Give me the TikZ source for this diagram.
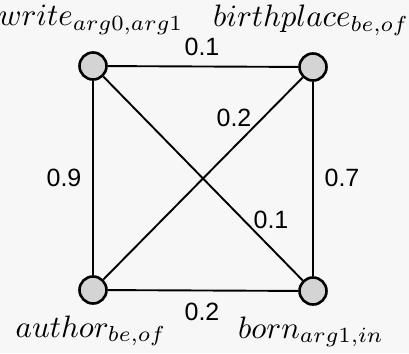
\documentclass[tikz,border=0pt]{standalone}
\usepackage{fontspec}
\setsansfont{Liberation Sans}
\usepackage{tikz}

\newcommand{\vtext}[1]{\scalebox{3.1}{$#1$}}

\begin{document}
\begin{tikzpicture}[x=1pt,y=-1pt,
  vertex/.style={circle,draw,line width=2.6pt,fill=black!17,inner sep=0pt,minimum size=27pt},
  weight/.style={font=\sffamily\fontsize{25}{28}\selectfont,inner sep=0pt},
  vname/.style={anchor=base,inner sep=0pt}]
  \useasboundingbox[fill=black!3] (0,0) rectangle (409,353);
  \node[vertex] (write) at (93,66) {};
  \node[vertex] (birth) at (313,67) {};
  \node[vertex] (author) at (93,290) {};
  \node[vertex] (born) at (313,291) {};
  \node[vname] (lwrite) at (91,26) {\vtext{write_{arg0,arg1}}};
  \node[vname] (lbirth) at (311,27) {\vtext{birthplace_{be,of}}};
  \node[vname] (lauthor) at (91,337) {\vtext{author_{be,of}}};
  \node[vname] (lborn) at (311,338) {\vtext{born_{arg1,in}}};
  \draw[line width=1.9pt] (write) -- (birth);
  \draw[line width=1.9pt] (write) -- (author);
  \draw[line width=1.9pt] (write) -- (born);
  \draw[line width=1.9pt] (birth) -- (author);
  \draw[line width=1.9pt] (birth) -- (born);
  \draw[line width=1.9pt] (author) -- (born);
  \node[weight] (w1) at (202,47) {0.1};
  \node[weight] (w2) at (64,178) {0.9};
  \node[weight] (w3) at (342,178) {0.7};
  \node[weight] (w4) at (202,312) {0.2};
  \node[weight] (w5) at (234,118) {0.2};
  \node[weight] (w6) at (271,220) {0.1};
\end{tikzpicture}
\end{document}
